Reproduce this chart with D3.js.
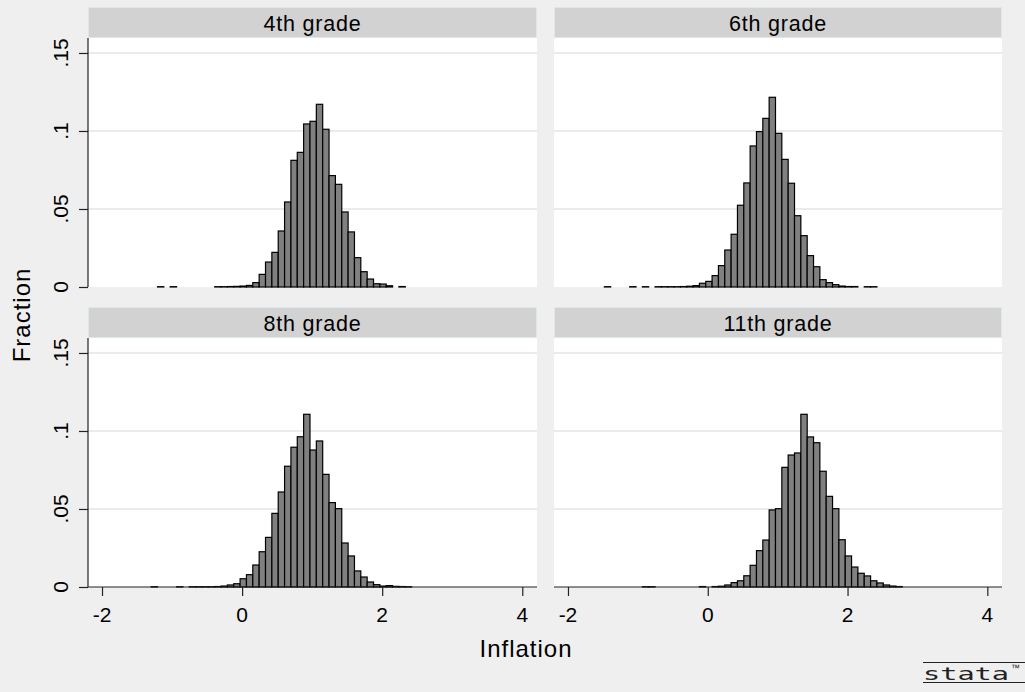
<!DOCTYPE html>
<html><head><meta charset="utf-8">
<script src="https://cdn.jsdelivr.net/npm/d3@7"></script>
<style>html,body{margin:0;padding:0;background:#efefef;}svg{display:block;}</style>
</head><body>
<script>
// ---- data ----
const binStart = -1.4798;
const binWidth = 0.0907;
const panelTitles = ["4th grade", "6th grade", "8th grade", "11th grade"];
const grade4 = [0,0,0,0.0002,0,0.0002,0,0,0,0,0,0,0.0002,0.0002,0.0003,0.0004,0.0006,0.001,0.0028,0.0081,0.016,0.0222,0.0359,0.0545,0.0812,0.0863,0.1045,0.1062,0.1171,0.1011,0.0714,0.0658,0.0481,0.0353,0.0188,0.0098,0.0051,0.0021,0.0019,0.0008,0,0.0003,0,0,0,0,0];
const grade6 = [0.0002,0,0,0,0.0002,0,0.0002,0,0.0002,0.0002,0.0002,0.0002,0.0003,0.0005,0.0009,0.0024,0.0036,0.0073,0.0137,0.0237,0.0338,0.0524,0.0667,0.0904,0.0996,0.1081,0.1216,0.0985,0.0818,0.0665,0.0457,0.0329,0.0201,0.013,0.0047,0.0028,0.0015,0.0006,0.0003,0.0003,0,0.0002,0.0002,0,0,0,0];
const grade8 = [0,0,0.0002,0,0,0,0.0002,0,0.0002,0.0002,0.0002,0.0002,0.0003,0.0006,0.0013,0.0021,0.0053,0.0079,0.0141,0.0226,0.0318,0.0472,0.0609,0.0774,0.0896,0.0963,0.1107,0.0878,0.0936,0.0722,0.0541,0.0502,0.0282,0.0199,0.0103,0.0064,0.0032,0.0015,0.0006,0.0009,0.0004,0.0003,0.0002,0,0,0,0];
const grade11 = [0,0,0,0,0,0,0.0002,0.0002,0,0,0,0,0,0,0,0.0003,0,0.0003,0.0005,0.0013,0.0028,0.004,0.0072,0.0139,0.0233,0.0301,0.0494,0.0502,0.0767,0.0846,0.0859,0.1107,0.0962,0.0925,0.0742,0.0581,0.0502,0.0303,0.0199,0.0128,0.0088,0.0071,0.004,0.0026,0.0013,0.0006,0.0003];
const xTicks = [-2, 0, 2, 4];
const yTicks = [0, 0.05, 0.1, 0.15];
const yTickLabels = ["0", ".05", ".1", ".15"];
const xTitle = "Inflation";
const yTitle = "Fraction";

const series = [grade4, grade6, grade8, grade11];

// ---- layout ----
const W = 1025, H = 692;
const font = "'Liberation Sans', Arial, Helvetica, sans-serif";
const svg = d3.select("body").append("svg").attr("width", W).attr("height", H);
svg.append("rect").attr("width", W).attr("height", H).attr("fill", "#efefef");

const cols = [{x: 88, w: 449}, {x: 554, w: 448}];
const rows = [{hy: 7, y: 38, h: 249}, {hy: 307, y: 338, h: 249}];
const xDomain = [-2.2, 4.21];
const yDomain = [0, 0.1596];

series.forEach((vals, idx) => {
  const c = cols[idx % 2], r = rows[Math.floor(idx / 2)];
  const x = d3.scaleLinear().domain(xDomain).range([c.x, c.x + c.w]);
  const y = d3.scaleLinear().domain(yDomain).range([r.y + r.h, r.y]);
  const g = svg.append("g");

  // header strip
  g.append("rect").attr("x", c.x + 0.5).attr("y", r.hy + 0.5).attr("width", c.w - 1).attr("height", r.y - r.hy - 1)
    .attr("fill", "#d2d2d2").attr("stroke", "#dce7ee").attr("stroke-width", 1);
  g.append("text").attr("x", c.x + c.w / 2).attr("y", r.hy + 24)
    .attr("text-anchor", "middle").attr("font-family", font).attr("font-size", 21.5)
    .attr("letter-spacing", 0.8).attr("fill", "#000")
    .text(panelTitles[idx]);

  // plot region
  g.append("rect").attr("x", c.x).attr("y", r.y).attr("width", c.w).attr("height", r.h).attr("fill", "#fff");

  // grid
  g.selectAll("line.grid").data(yTicks.filter(t => t > 0)).join("line").attr("class", "grid")
    .attr("x1", c.x).attr("x2", c.x + c.w).attr("y1", d => y(d)).attr("y2", d => y(d))
    .attr("stroke", "#e4e4e4").attr("stroke-width", 1.5);

  // bars
  const bins = vals.map((v, i) => ({x0: binStart + i * binWidth, x1: binStart + (i + 1) * binWidth, v})).filter(d => d.v > 0);
  g.selectAll("rect.bar").data(bins).join("rect").attr("class", "bar")
    .attr("x", d => x(d.x0)).attr("width", d => x(d.x1) - x(d.x0))
    .attr("y", d => y(d.v)).attr("height", d => y(0) - y(d.v))
    .attr("fill", "#808080").attr("stroke", "#000").attr("stroke-width", 1.2);

  // y axis (left column)
  if (idx % 2 === 0) {
    const ya = d3.axisLeft(y).tickValues(yTicks).tickSize(9).tickFormat((d, i) => "");
    const ag = g.append("g").attr("transform", `translate(${c.x},0)`).call(ya);
    ag.select(".domain").attr("stroke", "#222").attr("stroke-width", 1.2).attr("d", `M0,${r.y}V${r.y + r.h}`);
    ag.selectAll(".tick line").attr("stroke", "#222").attr("stroke-width", 1.2);
    g.selectAll("text.ylab").data(yTicks).join("text").attr("class", "ylab")
      .attr("transform", d => `translate(${c.x - 20},${y(d)}) rotate(-90)`)
      .attr("text-anchor", "middle").attr("font-family", font).attr("font-size", 21).attr("fill", "#000")
      .text((d, i) => yTickLabels[i]);
  }
  // x axis (bottom row)
  if (idx >= 2) {
    const xa = d3.axisBottom(x).tickValues(xTicks).tickSize(9).tickFormat("");
    const ag = g.append("g").attr("transform", `translate(0,${r.y + r.h})`).call(xa);
    ag.select(".domain").attr("stroke", "#222").attr("stroke-width", 1.2).attr("d", `M${c.x},0H${c.x + c.w}`);
    ag.selectAll(".tick line").attr("stroke", "#222").attr("stroke-width", 1.2);
    g.selectAll("text.xlab").data(xTicks).join("text").attr("class", "xlab")
      .attr("x", d => x(d)).attr("y", r.y + r.h + 35)
      .attr("text-anchor", "middle").attr("font-family", font).attr("font-size", 21).attr("fill", "#000")
      .text(d => d);
  }
});

// axis titles
svg.append("text").attr("x", 526).attr("y", 657).attr("text-anchor", "middle")
  .attr("font-family", font).attr("font-size", 24).attr("letter-spacing", 1).attr("fill", "#000").text(xTitle);
svg.append("text").attr("transform", "translate(30,315) rotate(-90)").attr("text-anchor", "middle")
  .attr("font-family", font).attr("font-size", 24).attr("letter-spacing", 1).attr("fill", "#000").text(yTitle);

// stata logo
const lg = svg.append("g");
lg.append("line").attr("x1", 923).attr("x2", 1025).attr("y1", 662.5).attr("y2", 662.5).attr("stroke", "#222").attr("stroke-width", 1);
lg.append("line").attr("x1", 923).attr("x2", 1025).attr("y1", 682.5).attr("y2", 682.5).attr("stroke", "#222").attr("stroke-width", 1);
lg.append("text").attr("x", 923).attr("y", 680).attr("font-family", "'DejaVu Sans Mono', monospace")
  .attr("font-size", 17).attr("textLength", 86).attr("lengthAdjust", "spacingAndGlyphs")
  .attr("fill", "#222").text("stata");
lg.append("text").attr("x", 1011).attr("y", 671).attr("font-family", font)
  .attr("font-size", 9).attr("fill", "#222").text("™");
</script>
</body></html>
